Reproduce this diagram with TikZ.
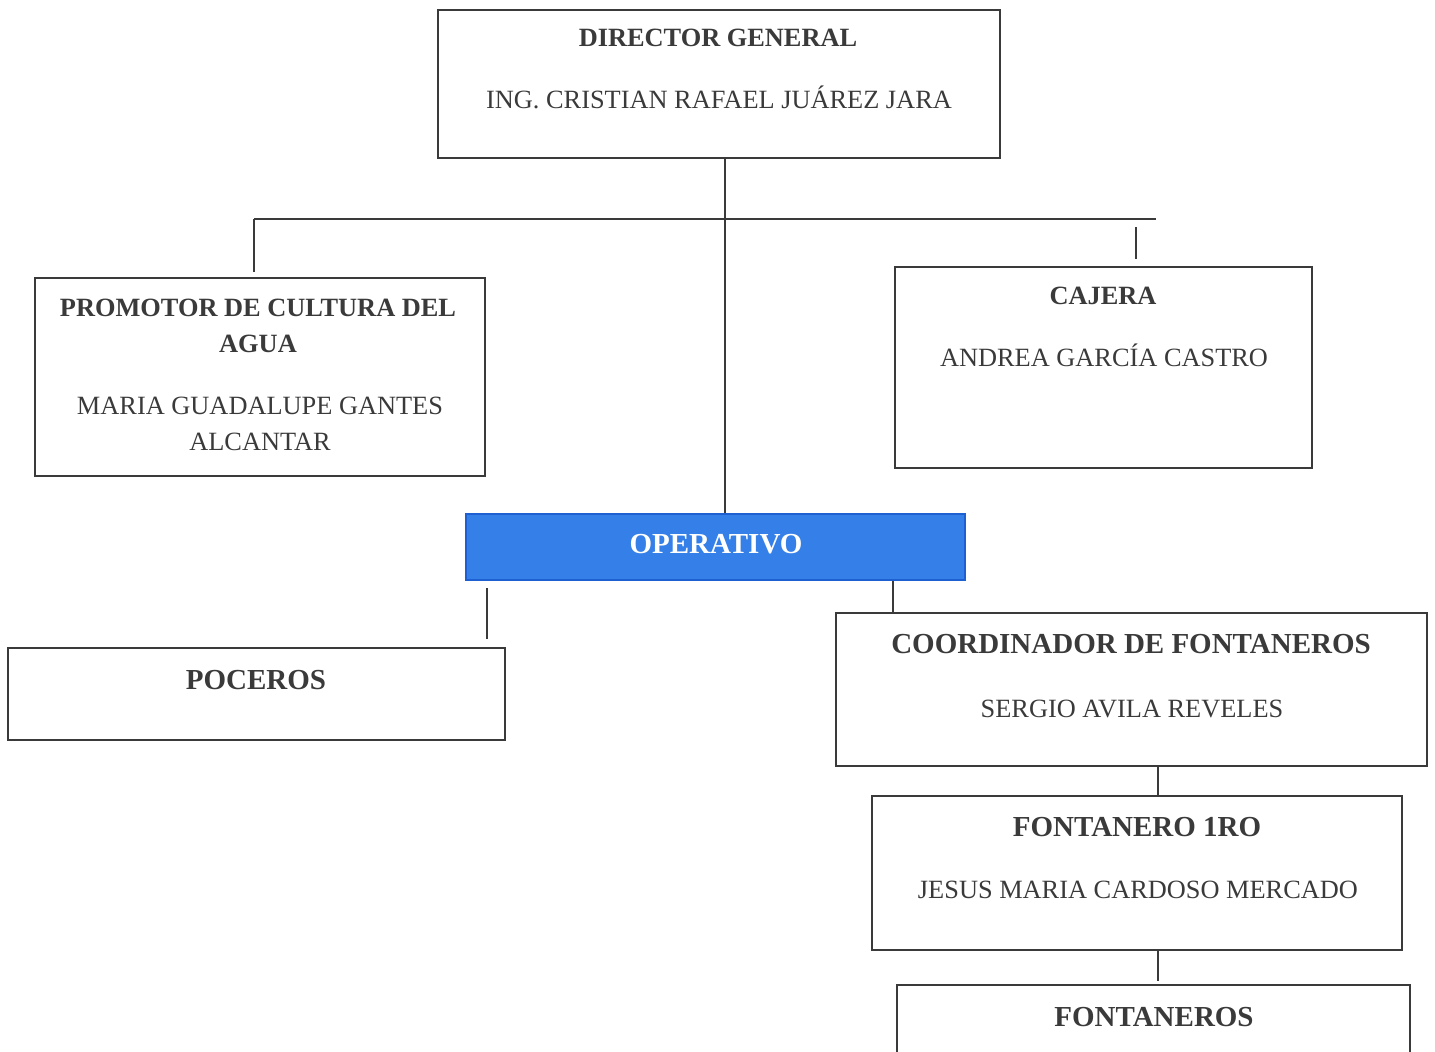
\documentclass[tikz,border=0pt]{standalone}
\usepackage{fontspec}
\setmainfont{Liberation Serif}
\newlength\px
\setlength\px{0.569pt}
\definecolor{azulop}{RGB}{52,128,232}
\definecolor{bordeop}{RGB}{30,95,210}
\definecolor{tinta}{RGB}{58,58,58}
\tikzset{
  puesto/.style={draw=tinta, line width=1.3pt, rectangle, inner sep=0pt},
  cargo/.style={anchor=base, inner sep=0pt, text=tinta, font=\bfseries\fontsize{15}{18}\selectfont},
  cargog/.style={cargo, font=\bfseries\fontsize{16.5}{20}\selectfont},
  nombre/.style={anchor=base, inner sep=0pt, text=tinta, font=\fontsize{15}{18}\selectfont},
  linea/.style={draw=tinta, line width=0.9pt},
}
\begin{document}
\begin{tikzpicture}[x=0.02cm,y=-0.02cm]
\useasboundingbox (0,0) rectangle (1435,1051);
\clip (0,0) rectangle (1435,1051);

% cajas
\node[puesto, minimum width=562\px, minimum height=148\px] (director) at (719,84) {};
\node[puesto, minimum width=450\px, minimum height=198\px] (promotor) at (260,377) {};
\node[puesto, minimum width=417\px, minimum height=201\px] (cajera) at (1103.5,367.5) {};
\node[puesto, fill=azulop, draw=bordeop, minimum width=499\px, minimum height=66\px] (operativo) at (715.5,547) {};
\node[puesto, minimum width=497\px, minimum height=92\px] (poceros) at (256.5,694) {};
\node[puesto, minimum width=591\px, minimum height=153\px] (coordinador) at (1131.5,689.5) {};
\node[puesto, minimum width=530\px, minimum height=154\px] (fontanero) at (1137,873) {};
\node[puesto, minimum width=513\px, minimum height=110\px] (fontaneros) at (1153.5,1040) {};

% textos
\node[cargo] (tDir) at (718,47) {DIRECTOR GENERAL};
\node[nombre] (nDir) at (719,109) {ING. CRISTIAN RAFAEL JUÁREZ JARA};
\node[cargo] (tProm1) at (258,316) {PROMOTOR DE CULTURA DEL};
\node[cargo] (tProm2) at (258,352) {AGUA};
\node[nombre] (nProm1) at (260,414) {MARIA GUADALUPE GANTES};
\node[nombre] (nProm2) at (260,450) {ALCANTAR};
\node[cargo] (tCaj) at (1103,304) {CAJERA};
\node[nombre] (nCaj) at (1104,366) {ANDREA GARCÍA CASTRO};
\node[cargog, text=white] (tOper) at (716,553) {OPERATIVO};
\node[cargog] (tPoc) at (256,689) {POCEROS};
\node[cargog] (tCoord) at (1131,653) {COORDINADOR DE FONTANEROS};
\node[nombre] (nCoord) at (1132,717) {SERGIO AVILA REVELES};
\node[cargog] (tFont) at (1137,836) {FONTANERO 1RO};
\node[nombre] (nFont) at (1138,898) {JESUS MARIA CARDOSO MERCADO};
\node[cargog] (tFonts) at (1154,1026) {FONTANEROS};

% lineas
\coordinate (bus) at (725,219);
\coordinate (busL) at (254,219);
\coordinate (busR) at (1156,219);
\coordinate (ramaCaj) at (1136,227);
\coordinate (ramaPoc) at (487,600);
\coordinate (ramaCoord) at (893,600);
\coordinate (ramaFont) at (1158,780);

\draw[linea] (busL) -- (busR);
\draw[linea] (director.south -| bus) -- (operativo.north -| bus);
\draw[linea, shorten >=3pt] (busL) -- (promotor.north -| busL);
\draw[linea, shorten >=4pt] (ramaCaj) -- (cajera.north -| ramaCaj);
\draw[linea, shorten <=4pt, shorten >=4.5pt] (operativo.south -| ramaPoc) -- (poceros.north -| ramaPoc);
\draw[linea] (operativo.south -| ramaCoord) -- (coordinador.north -| ramaCoord);
\draw[linea] (coordinador.south -| ramaFont) -- (fontanero.north -| ramaFont);
\draw[linea, shorten >=1.5pt] (fontanero.south -| ramaFont) -- (fontaneros.north -| ramaFont);
\end{tikzpicture}
\end{document}
